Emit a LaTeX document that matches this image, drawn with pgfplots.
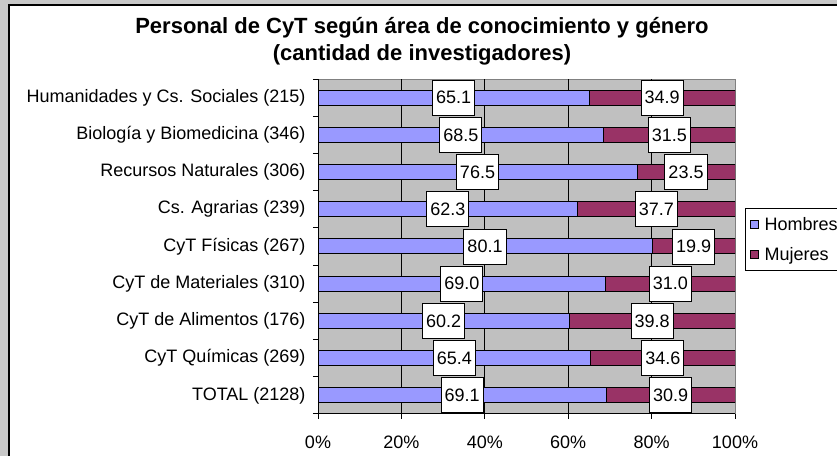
\documentclass[border=0pt]{standalone}
\usepackage{pgfplots}
\pgfplotsset{compat=1.18}
\usepackage{pgfplotstable}
\usepackage{fontspec}
\setmainfont{Liberation Sans}
\definecolor{hom}{HTML}{9999FF}
\definecolor{muj}{HTML}{993366}
\definecolor{pbg}{HTML}{C0C0C0}
\definecolor{outerbg}{HTML}{C8C8C8}
\definecolor{bord}{HTML}{808080}

\pgfplotstableread{
idx h m
0 69.1 30.9
1 65.4 34.6
2 60.2 39.8
3 69.0 31.0
4 80.1 19.9
5 62.3 37.7
6 76.5 23.5
7 68.5 31.5
8 65.1 34.9
}\datatable

\begin{document}
\begin{tikzpicture}
\useasboundingbox (0bp,0bp) rectangle (837bp,456bp);
\begin{scope}
\clip (0bp,0bp) rectangle (837bp,456bp);
\fill[outerbg] (0bp,0bp) rectangle (837bp,456bp);
\filldraw[fill=white, draw=black, line width=2bp] (9bp,-20bp) rectangle (860bp,451bp);
\end{scope}
\node[font=\fontsize{22bp}{27bp}\selectfont\bfseries, align=center] at (422bp,415bp) {Personal de CyT según área de conocimiento y género\\(cantidad de investigadores)};

\begin{axis}[
  at={(318bp,42bp)}, anchor=south west, scale only axis, width=417bp, height=335bp,
  xbar stacked, bar width=15bp,
  xmin=0, xmax=100, ymin=-0.5, ymax=8.5,
  axis background/.style={fill=pbg},
  axis line style={draw=bord, line width=1bp},
  xtick={0,20,...,100}, xticklabels={0\%,20\%,40\%,60\%,80\%,100\%},
  extra x ticks={20,40,60,80}, extra x tick labels={},
  extra x tick style={grid=major},
  major grid style={black, line width=1bp},
  ytick={0,...,8},
  yticklabels={TOTAL (2128),CyT Químicas (269),CyT de Alimentos (176),CyT de Materiales (310),CyT Físicas (267),Cs. Agrarias (239),Recursos Naturales (306),Biología y Biomedicina (346),Humanidades y Cs. Sociales (215)},
  minor ytick={-0.5,0.5,...,8.5},
  xtick pos=bottom, ytick pos=left, tick align=outside,
  major tick length=5bp, minor tick length=5bp,
  tick style={black, line width=1bp},
  major y tick style={draw=none},
  ticklabel style={font=\fontsize{18bp}{20bp}\selectfont},
  /pgf/number format/assume math mode=true,
  yticklabel style={xshift=-4bp},
  xticklabel style={yshift=-13bp},
  legend style={at={(1.024,0.615)}, anchor=north west, draw=black, line width=1bp, fill=white,
    font=\fontsize{18bp}{20bp}\selectfont, row sep=11bp, inner xsep=3bp, inner ysep=7bp},
  legend cell align=left,
  legend image code/.code={\draw[#1, line width=1bp] (2bp,-4bp) rectangle (10bp,4bp); \path[draw=none, fill=none] (0bp,0bp) -- (14bp,0bp);},
]
\addplot[fill=hom, draw=black, line width=1bp] table[x=h, y=idx] {\datatable};
\addplot[fill=muj, draw=black, line width=1bp] table[x=m, y=idx] {\datatable};
\legend{Hombres, Mujeres}
\draw[black, line width=1bp] (axis description cs:0,1) -- (axis description cs:0,0) -- (axis description cs:1,0);
\end{axis}

\begin{axis}[
  at={(318bp,42bp)}, anchor=south west, scale only axis, width=417bp, height=335bp,
  xmin=0, xmax=100, ymin=-0.5, ymax=8.5, hide axis,
  nodes near coords, point meta=explicit,
  /pgf/number format/.cd, fixed, fixed zerofill, precision=1, assume math mode=true, /pgfplots/.cd,
  every node near coord/.style={anchor=center, fill=white, draw=black, line width=1bp,
    font=\fontsize{18bp}{20bp}\selectfont, minimum height=35bp, inner xsep=3.5bp, inner ysep=1bp},
]
\addplot[draw=none] table[x expr=\thisrow{h}/2, y=idx, meta=h] {\datatable};
\addplot[draw=none] table[x expr=\thisrow{h}+\thisrow{m}/2, y=idx, meta=m] {\datatable};
\end{axis}
\end{tikzpicture}
\end{document}
